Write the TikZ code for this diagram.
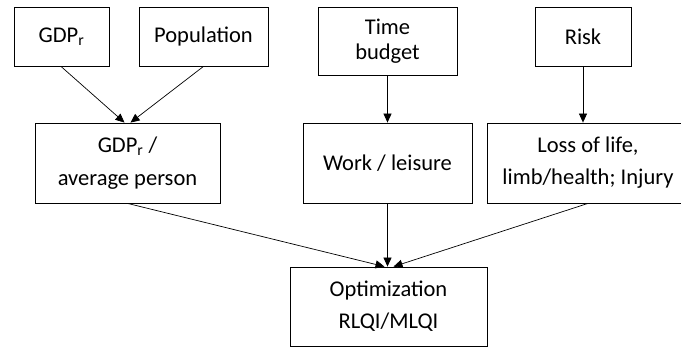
\documentclass[tikz,border=0pt]{standalone}
\usepackage{fontspec}
\setmainfont{Carlito}
\usetikzlibrary{arrows.meta}
\begin{document}
\begin{tikzpicture}[x=1pt,y=-1pt,
  box/.style={draw,line width=0.8pt,rectangle,inner sep=0pt,align=center,
    font=\fontsize{22.5}{32}\selectfont},
  link/.style={line width=0.7pt,-{Triangle[length=9pt,width=8pt]}}]
\useasboundingbox (0,0) rectangle (681,347);
% top row
\node[box,minimum width=95pt,minimum height=59pt] (gdp) at (61.5,37) {GDP\textsubscript{r}};
\node[box,minimum width=129pt,minimum height=59pt] (pop) at (203.5,36.5) {Population};
\node[box,minimum width=139pt,minimum height=68pt,
  font=\fontsize{22.5}{25}\selectfont] (time) at (387.5,41) {Time\\budget};
\node[box,minimum width=96pt,minimum height=59pt] (risk) at (583,36.5) {Risk};
% middle row
\node[box,minimum width=185pt,minimum height=80pt,
  font=\fontsize{22.5}{33}\selectfont] (avg) at (127.5,163) {GDP\textsubscript{r} /\\average person};
\node[box,minimum width=169pt,minimum height=80pt] (work) at (387.5,163) {Work / leisure};
\node[box,minimum width=202pt,minimum height=80pt] (loss) at (588,163) {Loss of life,\\limb/health; Injury};
% bottom
\node[box,minimum width=197pt,minimum height=79pt] (opt) at (388.5,306.5) {Optimization\\RLQI/MLQI};
% connectors
\draw[link] (gdp.south) -- ([xshift=-3pt]avg.north);
\draw[link] (pop.south) -- ([xshift=3pt]avg.north);
\draw[link] (time.south) -- (time.south |- work.north);
\draw[link] (risk.south) -- (risk.south |- loss.north);
\draw[link] (avg.south) -- ([xshift=-4pt]opt.north);
\draw[link] (work.south) -- (work.south |- opt.north);
\draw[link] (loss.south) -- ([xshift=5pt]opt.north);
\end{tikzpicture}
\end{document}
